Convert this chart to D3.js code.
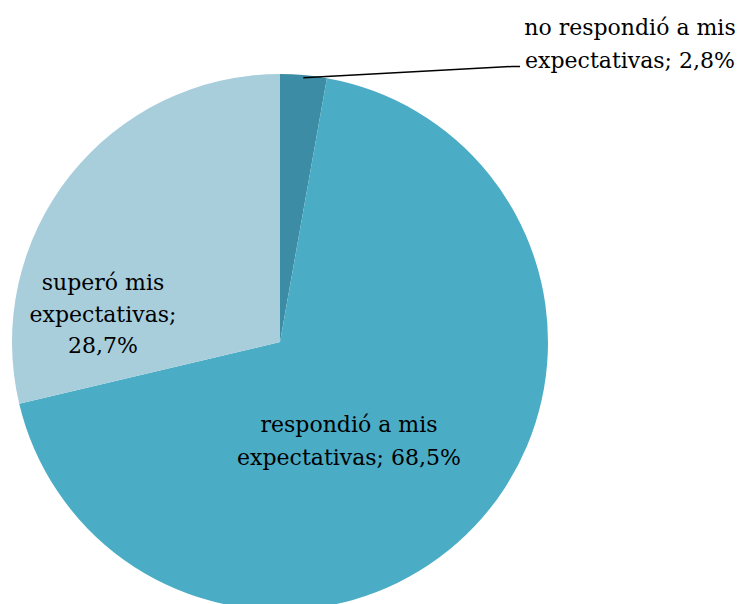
<!DOCTYPE html>
<html><head><meta charset="utf-8">
<script src="https://cdn.jsdelivr.net/npm/d3@7"></script>
<style>body{margin:0;background:#fff}svg{display:block}</style>
</head><body>
<svg id="c" width="740" height="604"></svg>
<script>
const categories = ["no respondió a mis expectativas", "respondió a mis expectativas", "superó mis expectativas"];
const values = [2.8, 68.5, 28.7];
const labelLines = [
  ["no respondió a mis", "expectativas; 2,8%"],
  ["respondió a mis", "expectativas; 68,5%"],
  ["superó mis", "expectativas;", "28,7%"]
];
const colors = ["#3b8ca4", "#4bacc6", "#a8cedc"];

const svg = d3.select("#c");
const cx = 280, cy = 342, r = 268;
const g = svg.append("g").attr("transform", `translate(${cx},${cy})`);
const pie = d3.pie().sort(null).value(d => d);
const arcs = pie(values);
const arc = d3.arc().innerRadius(0).outerRadius(r);
g.selectAll("path").data(arcs).enter().append("path")
  .attr("d", arc).attr("fill", (d, i) => colors[i]);

const font = "'DejaVu Serif', serif";
const fs = 22;
const lh = [33, 33, 31.5];
const labelPos = [[630, 35], [349, 432], [103, 290]];
labelLines.forEach((lines, i) => {
  const t = svg.append("text").attr("font-family", font).attr("font-size", fs)
    .attr("fill", "#000").attr("text-anchor", "middle");
  lines.forEach((ln, j) => {
    t.append("tspan").attr("x", labelPos[i][0]).attr("y", labelPos[i][1] + j * lh[i]).text(ln);
  });
});
const a0 = arcs[0];
const mid = (a0.startAngle + a0.endAngle) / 2;
const p0 = [cx + Math.sin(mid) * r * 0.99, cy - Math.cos(mid) * r * 0.99];
svg.append("polyline").attr("points", `${p0[0]},${p0[1]} 512,66.5 520,66.5`)
  .attr("fill", "none").attr("stroke", "#000").attr("stroke-width", 1.5);
</script>
</body></html>
